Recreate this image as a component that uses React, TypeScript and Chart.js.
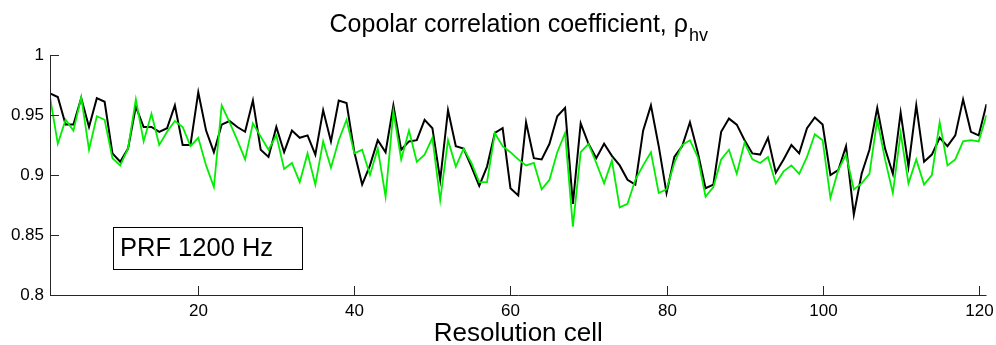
import React, { useEffect, useRef } from "react";
import { Chart, registerables } from "chart.js";

Chart.register(...registerables);

const cells: number[] = Array.from({ length: 121 }, (_, i) => i + 1);

const rhoBlack: number[] = [
  0.968, 0.965, 0.942, 0.942, 0.964, 0.940, 0.964, 0.961, 0.918, 0.911,
  0.922, 0.957, 0.940, 0.940, 0.936, 0.939, 0.958, 0.925, 0.925, 0.969,
  0.937, 0.919, 0.942, 0.945, 0.940, 0.936, 0.962, 0.921, 0.915, 0.940,
  0.919, 0.937, 0.931, 0.933, 0.917, 0.954, 0.928, 0.962, 0.960, 0.919,
  0.892, 0.908, 0.929, 0.919, 0.958, 0.921, 0.928, 0.929, 0.946, 0.939,
  0.896, 0.954, 0.924, 0.922, 0.907, 0.891, 0.907, 0.935, 0.939, 0.889,
  0.883, 0.944, 0.914, 0.913, 0.926, 0.949, 0.956, 0.876, 0.943, 0.926,
  0.914, 0.926, 0.916, 0.908, 0.896, 0.892, 0.937, 0.958, 0.924, 0.885,
  0.915, 0.924, 0.944, 0.919, 0.889, 0.892, 0.936, 0.947, 0.942, 0.929,
  0.918, 0.917, 0.931, 0.902, 0.913, 0.925, 0.918, 0.939, 0.948, 0.942,
  0.900, 0.904, 0.924, 0.867, 0.901, 0.921, 0.956, 0.922, 0.901, 0.952,
  0.907, 0.958, 0.911, 0.917, 0.931, 0.924, 0.933, 0.963, 0.936, 0.933,
  0.959,
];

const rhoGreen: number[] = [
  0.965, 0.926, 0.946, 0.937, 0.965, 0.921, 0.949, 0.946, 0.914, 0.908,
  0.922, 0.963, 0.928, 0.951, 0.925, 0.936, 0.945, 0.940, 0.924, 0.931,
  0.908, 0.890, 0.958, 0.944, 0.929, 0.913, 0.943, 0.932, 0.921, 0.933,
  0.905, 0.910, 0.894, 0.918, 0.892, 0.928, 0.906, 0.929, 0.946, 0.918,
  0.921, 0.900, 0.922, 0.882, 0.953, 0.913, 0.937, 0.911, 0.917, 0.931,
  0.879, 0.929, 0.907, 0.922, 0.910, 0.894, 0.894, 0.935, 0.924, 0.919,
  0.913, 0.908, 0.910, 0.888, 0.896, 0.919, 0.935, 0.857, 0.919, 0.926,
  0.910, 0.893, 0.912, 0.873, 0.876, 0.896, 0.908, 0.919, 0.885, 0.888,
  0.910, 0.925, 0.929, 0.915, 0.882, 0.890, 0.913, 0.921, 0.901, 0.927,
  0.913, 0.910, 0.915, 0.893, 0.903, 0.908, 0.901, 0.915, 0.934, 0.929,
  0.881, 0.904, 0.917, 0.888, 0.893, 0.901, 0.946, 0.913, 0.885, 0.935,
  0.893, 0.913, 0.892, 0.900, 0.944, 0.908, 0.913, 0.928, 0.929, 0.928,
  0.950,
];

const xTicks: number[] = [20, 40, 60, 80, 100, 120];
const yTicks: number[] = [0.8, 0.85, 0.9, 0.95, 1];
const yTickLabels: string[] = ["0.8", "0.85", "0.9", "0.95", "1"];

const titleMain = "Copolar correlation coefficient, \u03C1";
const titleSub = "hv";
const xLabel = "Resolution cell";
const boxText = "PRF 1200 Hz";

const FONT = "'Liberation Sans', Arial, sans-serif";

const axesPlugin = {
  id: "matlabAxes",
  beforeDraw(chart: any) {
    const ctx = chart.ctx;
    ctx.save();
    ctx.fillStyle = "#ffffff";
    ctx.fillRect(0, 0, chart.width, chart.height);
    ctx.restore();
  },
  afterDraw(chart: any) {
    const ctx = chart.ctx;
    const { left, right, top, bottom } = chart.chartArea;
    const xs = chart.scales.x;
    const ys = chart.scales.y;
    ctx.save();
    ctx.strokeStyle = "#262626";
    ctx.lineWidth = 1;
    // axis lines
    ctx.beginPath();
    ctx.moveTo(Math.round(left) + 0.5, top);
    ctx.lineTo(Math.round(left) + 0.5, Math.round(bottom) + 0.5);
    ctx.lineTo(right, Math.round(bottom) + 0.5);
    ctx.stroke();
    const tl = 9;
    // x ticks
    ctx.fillStyle = "#000";
    ctx.font = `17px ${FONT}`;
    ctx.textAlign = "center";
    ctx.textBaseline = "top";
    xTicks.forEach((t) => {
      const px = Math.round(xs.getPixelForValue(t)) + 0.5;
      ctx.beginPath();
      ctx.moveTo(px, bottom);
      ctx.lineTo(px, bottom - tl);
      ctx.stroke();
      ctx.fillText(String(t), px, bottom + 8);
    });
    // y ticks
    ctx.textAlign = "right";
    ctx.textBaseline = "middle";
    yTicks.forEach((t, i) => {
      const py = Math.round(ys.getPixelForValue(t)) + 0.5;
      ctx.beginPath();
      ctx.moveTo(left, py);
      ctx.lineTo(left + tl, py);
      ctx.stroke();
      ctx.fillText(yTickLabels[i], left - 6, py);
    });
    // x label
    ctx.font = `26px ${FONT}`;
    ctx.textAlign = "center";
    ctx.textBaseline = "alphabetic";
    const cx = (left + right) / 2;
    ctx.fillText(xLabel, cx, 341);
    // title
    ctx.font = `25px ${FONT}`;
    const wMain = ctx.measureText(titleMain).width;
    ctx.font = `18px ${FONT}`;
    const wSub = ctx.measureText(titleSub).width;
    const startX = cx - (wMain + wSub) / 2;
    ctx.textAlign = "left";
    ctx.font = `25px ${FONT}`;
    ctx.fillText(titleMain, startX, 32);
    ctx.font = `18px ${FONT}`;
    ctx.fillText(titleSub, startX + wMain + 1, 41);
    // annotation box
    const bx = left + 63;
    const by = 227;
    const bw = 189;
    const bh = 42;
    ctx.fillStyle = "#ffffff";
    ctx.fillRect(bx, by, bw, bh);
    ctx.strokeStyle = "#000";
    ctx.strokeRect(bx + 0.5, by + 0.5, bw, bh);
    ctx.fillStyle = "#000";
    ctx.font = `25.5px ${FONT}`;
    ctx.fillText(boxText, bx + 7, 256);
    ctx.restore();
  },
};

export default function App() {
  const canvasRef = useRef<HTMLCanvasElement | null>(null);

  useEffect(() => {
    if (!canvasRef.current) return;
    const chart = new Chart(canvasRef.current, {
      type: "line",
      data: {
        datasets: [
          {
            label: "green",
            data: cells.map((c, i) => ({ x: c, y: rhoGreen[i] })),
            borderColor: "#00ee00",
            borderWidth: 1.8,
            pointRadius: 0,
            tension: 0,
            fill: false,
          },
          {
            label: "black",
            data: cells.map((c, i) => ({ x: c, y: rhoBlack[i] })),
            borderColor: "#000000",
            borderWidth: 2,
            pointRadius: 0,
            tension: 0,
            fill: false,
          },
        ],
      },
      options: {
        animation: false,
        responsive: true,
        maintainAspectRatio: false,
        layout: { padding: { left: 50, right: 9.5, top: 55, bottom: 50 } },
        plugins: {
          legend: { display: false },
          tooltip: { enabled: false },
          title: { display: false },
        },
        scales: {
          x: { type: "linear", min: 1, max: 121, display: false },
          y: { type: "linear", min: 0.8, max: 1, display: false },
        },
      },
      plugins: [axesPlugin],
    });
    return () => chart.destroy();
  }, []);

  return (
    <div style={{ position: "fixed", left: 0, top: 0, width: 996, height: 345, background: "#fff" }}>
      <canvas ref={canvasRef} />
    </div>
  );
}
